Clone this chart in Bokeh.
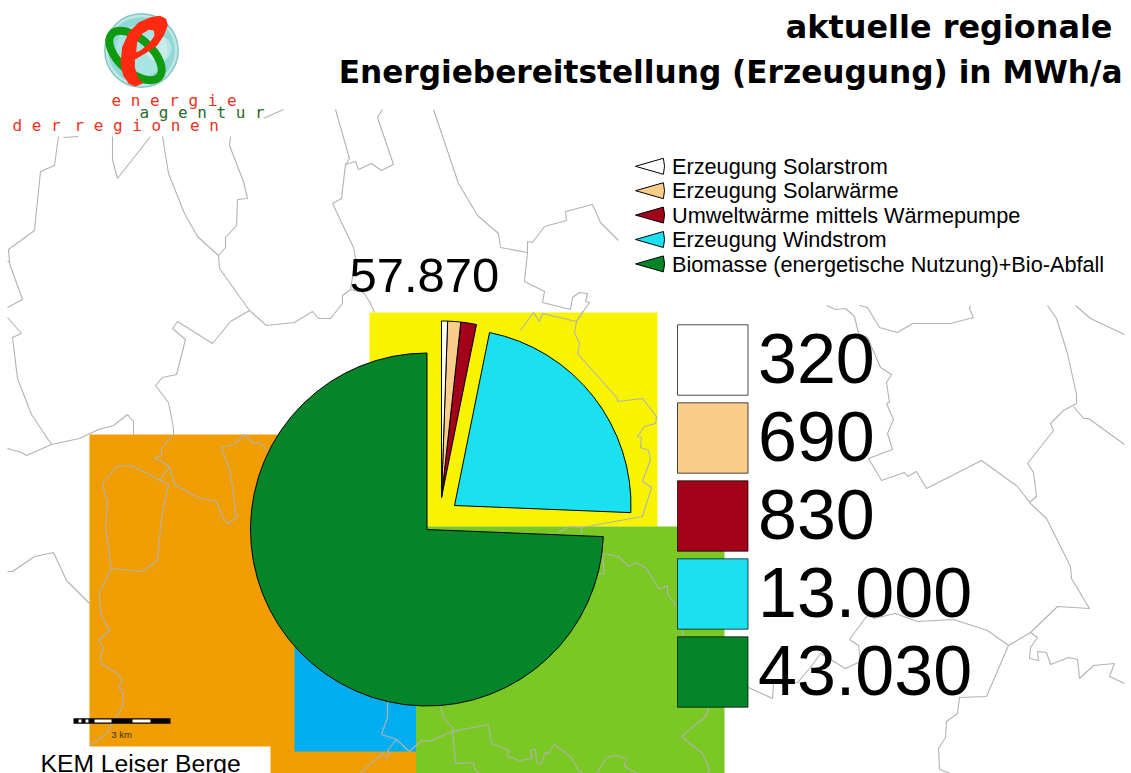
from math import pi
from bokeh.plotting import figure
from bokeh.models import Range1d
from bokeh.core.properties import value
from bokeh.embed import file_html
from bokeh.resources import INLINE

# ---- data -------------------------------------------------------------
categories = ["Erzeugung Solarstrom", "Erzeugung Solarwärme", "Umweltwärme mittels Wärmepumpe",
              "Erzeugung Windstrom", "Biomasse (energetische Nutzung)+Bio-Abfall"]
values = [320, 690, 830, 13000, 43030]
value_labels = ["320", "690", "830", "13.000", "43.030"]
total_label = "57.870"
colors = ["#ffffff", "#fbcd8a", "#a3001a", "#1ae0f0", "#058529"]
title_lines = ["aktuelle regionale", "Energiebereitstellung (Erzeugung) in MWh/a"]
region_name = "KEM Leiser Berge"
scale_label = "3 km"

# ---- layout ------------------------------------------------------------
W, H = 1131, 773
def Y(py):
    return H - py

# exploded centres of the slices, same order as the values
slice_cx = [441, 441, 441, 454, 426.5]
slice_cy = [497, 497, 497, 505, 529]
pie_r = 176.5

# coloured regions: left, right, top, bottom
regions = [
    (89, 416, 434, 773, "#ef9d00"),
    (369, 657, 312, 526, "#f8f400"),
    (294, 416, 500, 751, "#00aeef"),
    (415.5, 724, 526, 773, "#7ac823"),
]

# administrative borders of the map
borders = [
    [(58,136),(54,165),(40,171),(34,230),(8,249),(9,263),(22,299),(7,307)],
    [(63,137),(78,136)],
    [(7,261),(9,261)],
    [(7,317),(21,333),(12,337),(17,378),(31,414),(51,444),(79,438),(98,429),(113,425),(127,414),(133,421),(133,434)],
    [(7,448),(21,452),(26,455),(51,444)],
    [(112,136),(112,159),(117,178),(150,136)],
    [(162,136),(168,173),(184,213),(197,236),(218,255),(219,268),(249,310)],
    [(249,310),(230,321),(212,343),(177,321),(172,328),(185,339),(176,374),(162,377),(155,385),(168,402),(173,428),(173,434),
     (161,448),(161,455),(154,457),(169,466),(174,484),(197,497),(216,501),(223,518),(228,523),(236,517),(230,472),(221,447),
     (234,444),(244,434),(252,442),(261,443),(268,452)],
    [(169,466),(159,480)],
    [(102,483),(116,466),(131,465),(168,484),(161,517),(157,560),(142,571),(111,568),(105,527),(107,504),(102,483)],
    [(111,568),(99,592),(100,613),(109,630),(98,640),(103,647),(100,657),(102,664),(117,673),(122,681),(118,687),(123,692),
     (122,706),(112,723),(106,733),(89,745)],
    [(7,571),(12,571),(34,556),(53,552),(66,580),(89,603)],
    [(230,136),(229,145),(243,181),(247,198),(237,199),(236,225),(225,237),(225,247),(218,255)],
    [(263,118),(283,109)],
    [(335,109),(349,158),(345,164),(341,198),(332,203),(353,247),(355,258),(350,289)],
    [(350,289),(342,295),(342,303),(330,318),(318,318),(312,311),(294,322),(266,325),(249,310)],
    [(350,289),(363,292),(369,301),(374,312)],
    [(345,164),(355,161),(358,169),(371,163),(381,170),(393,164),(377,117),(382,109)],
    [(433,109),(458,183),(477,215),(498,233),(500,247),(527,252),(524,281),(544,291),(542,302),(570,309),(572,297),(579,292),
     (587,293),(585,301),(589,302),(576,321)],
    [(527,252),(527,241),(532,242),(544,226),(566,220),(565,211),(592,204),(600,222),(618,240)],
    [(583,310),(576,321),(542,313),(539,321),(533,312),(520,330)],
    [(576,321),(574,332),(579,343),(577,353),(617,398),(617,401),(642,398),(656,416),(655,423),(644,426),(637,436),(641,437),
     (640,447),(648,450),(650,459),(642,481),(651,487),(642,516),(581,527),(581,533)],
    [(581,527),(569,526),(557,533)],
    [(602,553),(618,556),(628,566),(636,562),(646,568),(659,589),(667,585),(667,594),(677,607),(683,636)],
    [(602,553),(604,573),(598,573)],
    [(708,707),(706,715),(681,736),(702,753),(709,768),(707,773)],
    [(826,305),(835,309),(845,308),(854,316),(858,333),(867,337),(880,367),(891,374),(886,382),(889,402),(886,403),(893,419),
     (887,433),(892,449),(868,458),(881,480),(904,472),(907,476),(916,471),(926,488),(981,460),(1017,486),(1030,503),(1046,518),
     (1070,566),(1071,578),(1089,608),(1057,606),(1030,632),(1008,645),(987,630),(953,619),(917,621),(895,613),(873,618),(873,611),
     (866,616),(849,639),(858,645),(860,661),(845,668),(820,653),(810,667),(797,682),(773,683),(772,698),(748,687)],
    [(859,305),(867,307),(879,327),(897,332),(912,323),(950,323),(973,317),(969,308),(970,305)],
    [(1047,305),(1056,318),(1067,353),(1076,394),(1076,403),(1063,410),(1050,423),(1053,430),(1027,463),(1033,472),(1036,496),(1029,502)],
    [(1075,305),(1090,318),(1124,334)],
    [(1073,406),(1083,418),(1088,418),(1124,444)],
    [(1030,632),(1037,637),(1030,647),(1029,658),(1038,660),(1037,651),(1046,652),(1050,664),(1068,657),(1077,659),(1079,678),
     (1093,665),(1114,663),(1109,676),(1124,683)],
    [(1008,645),(986,696),(959,697),(957,713),(946,721),(945,737),(938,748),(939,769),(950,773)],
    [(387,701),(387,717),(381,734),(396,739),(409,751),(421,740),(428,741),(452,731),(488,724),(491,743),(509,750),(506,755),
     (519,760),(532,758),(530,750),(535,749),(536,762),(540,764),(545,752),(547,754),(554,744),(571,757),(578,770),(583,773)],
    [(396,739),(387,750),(390,753),(385,757),(382,753),(359,773)],
    [(440,705),(443,717),(453,728),(452,731),(455,763),(473,762),(474,768),(479,773)],
    [(596,773),(606,757),(615,755),(626,758),(624,766),(637,773)],
]

p = figure(width=W, height=H, x_range=Range1d(0, W), y_range=Range1d(0, H),
           output_backend="svg", toolbar_location=None, min_border=0,
           outline_line_color=None, background_fill_color="white", border_fill_color="white")
p.axis.visible = False
p.grid.visible = False
p.styles = {"position": "absolute", "left": "0px", "top": "0px"}

BASE_SHIFT = 0.37  # the alphabetic baseline lands this many em too low in the svg output
def label(x, base, txt, size, font="Liberation Sans", color="black", align="left", style="normal"):
    p.text(x=[x], y=[Y(base - BASE_SHIFT * size)], text=[txt], text_font=value(font), text_font_size=f"{size}px",
           text_color=color, text_align=align, text_baseline="alphabetic", text_font_style=style)

# ---- map ---------------------------------------------------------------
for l, r, t, b, c in regions:
    p.quad(left=l, right=r, top=Y(t), bottom=Y(b), fill_color=c, line_color=None)
p.multi_line(xs=[[q[0] for q in b] for b in borders], ys=[[Y(q[1]) for q in b] for b in borders],
             line_color="#b2b2b2", line_width=1.1)
p.quad(left=0, right=270, top=Y(746), bottom=Y(H), fill_color="white", line_color=None)

# ---- pie ---------------------------------------------------------------
total = sum(values)
start = 90.0
for i in list(range(len(values)))[::-1]:
    sweep = values[i] / total * 360
    p.wedge(x=slice_cx[i], y=Y(slice_cy[i]), radius=pie_r,
            start_angle=start * pi / 180, end_angle=(start + sweep) * pi / 180,
            fill_color=colors[i], line_color="black", line_width=1)
    start += sweep

label(349, 293, total_label, 49)

# ---- key with values ---------------------------------------------------
for i, lab in enumerate(value_labels):
    top = 324.3 + i * 78
    p.quad(left=677, right=747.5, top=Y(top), bottom=Y(top + 70.4), fill_color=colors[i],
           line_color="black", line_alpha=0.7, line_width=1)
    label(757.5, 384 + i * 78, lab, 70)

# ---- legend ------------------------------------------------------------
for i, name in enumerate(categories):
    cy = 165.8 + i * 24.4
    p.wedge(x=635, y=Y(cy), radius=29, start_angle=-16 * pi / 180, end_angle=16 * pi / 180,
            fill_color=colors[i], line_color="black", line_width=1)
    label(671.5, cy + 8.2, name, 21.7)

# ---- title -------------------------------------------------------------
for line, right, base, size in zip(title_lines, [1112, 1122], [38.5, 83.5], [31.9, 31.2]):
    label(right, base, line, size, font="DejaVu Sans", align="right", style="bold")

# ---- logo --------------------------------------------------------------
ball = [(37.5, "#86c4c6"), (36, "#c0e6e6"), (33.5, "#8fd8d6"), (26, "#a8e4e2")]
for rr, c in ball:
    p.circle(x=141, y=Y(50), radius=rr, fill_color=c, line_color=None)
p.circle(x=158, y=Y(48), radius=13, fill_color="white", fill_alpha=0.35, line_color=None)
p.ellipse(x=135, y=Y(55), width=64, height=33, angle=-42 * pi / 180, fill_color=None,
          line_color="#109a10", line_width=8)
red_e = [(450,50),(478,46),(497,55),(502,75),(490,105),(470,135),(440,155),(403,178),(403,200),(412,230),(428,248),(405,258),
         (385,250),(368,225),(360,190),(365,140),(385,95),(415,65)]
counter = [(445,88),(460,90),(462,105),(445,130),(420,150),(407,155),(410,125),(425,100)]
p.multi_polygons(xs=[[[[q[0] / 3 for q in red_e], [q[0] / 3 for q in counter]]]],
                 ys=[[[[Y(q[1] / 3) for q in red_e], [Y(q[1] / 3) for q in counter]]]],
                 fill_color="#ff2a10", line_color=None)
for txt, x, base, c in [("e n e r g i e", 111, 105.7, "#f03020"), ("a g e n t u r", 139, 117.7, "#2a6a2a"),
                        ("d e r", 12, 130.7, "#f03020"), ("r e g i o n e n", 74, 130.7, "#f03020")]:
    label(x, base, txt, 16, font="DejaVu Sans Mono", color=c)

# ---- scale bar and region name -----------------------------------------
p.quad(left=73, right=170, top=Y(717.7), bottom=Y(723.3), fill_color="black", line_color=None)
p.quad(left=[78, 85, 94, 132], right=[81, 88, 111, 150], top=Y(719), bottom=Y(722), fill_color="white", line_color=None)
label(121, 737.5, scale_label, 9.5, color="#333333", align="center")
label(40, 772, region_name, 24.7)

open("out.html", "w").write(file_html(p, INLINE))
